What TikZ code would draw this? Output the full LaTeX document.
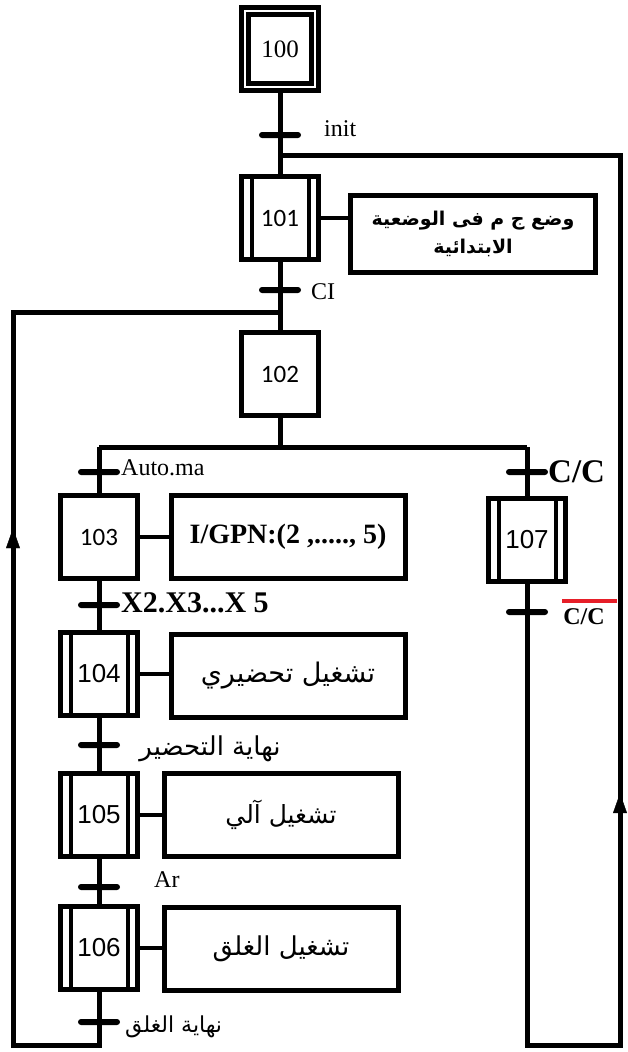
\documentclass[tikz,border=0pt]{standalone}
\usepackage{fontspec}
\setmainfont{Liberation Serif}
\newfontfamily\arabicfont[Script=Arabic]{DejaVu Sans}
\newfontfamily\calibrifont{Carlito}
\newfontfamily\arialfont{Liberation Sans}
\TeXXeTstate=1
\usetikzlibrary{arrows.meta, positioning, decorations.markings}
\definecolor{negred}{RGB}{230, 30, 40}
\newcommand{\serifnum}{\fontsize{25}{28}\selectfont}
\newcommand{\calnum}{\calibrifont\fontsize{25}{28}\selectfont}
\newcommand{\arnum}{\arialfont\fontsize{26}{28}\selectfont}
\tikzset{
    flow/.style={line width=5pt},
    link/.style={line width=3.5pt},
    uparrow/.style={postaction={decorate}, decoration={markings,
        mark=at position #1 with {\arrow{Triangle[length=20pt, width=14pt]}}}},
}

\begin{document}
\begin{tikzpicture}[x=1pt, y=-1pt,
        stepbox/.style={
            rectangle, draw, line width=5pt, fill=white,
            minimum width=77pt, minimum height=83pt, inner sep=0pt
        },
        dblstep/.style={
            stepbox, path picture={
                \draw[line width=4pt]
                    ([xshift=10pt]path picture bounding box.south west) --
                    ([xshift=10pt]path picture bounding box.north west);
                \draw[line width=4pt]
                    ([xshift=-10pt]path picture bounding box.south east) --
                    ([xshift=-10pt]path picture bounding box.north east);
            }
        },
        initstep/.style={
            rectangle, draw, line width=5pt, double=white, double distance=2pt,
            fill=white, minimum width=70pt, minimum height=76pt, inner sep=0pt
        },
        trans/.style={
            rectangle, fill=black, minimum width=42pt, minimum height=6pt,
            inner sep=0pt, rounded corners=3pt
        },
        action/.style={
            rectangle, draw, line width=5pt, fill=white, minimum width=234pt,
            minimum height=83pt, inner sep=0pt, align=center
        },
        lbl/.style={font=\fontsize{24}{28}\selectfont, inner sep=0pt},
        boldlbl/.style={font=\bfseries\fontsize{#1}{32}\selectfont, inner sep=0pt},
        arlbl/.style={font=\arabicfont\fontsize{#1}{30}\selectfont, inner sep=0pt},
    ]
    \useasboundingbox (0,0) rectangle (627,1052);

    % ---- Steps ----
    \node[initstep, font=\serifnum] (s100) at (280, 49) {100};
    \node[dblstep, font=\calnum] (s101) at (280, 218) {101};
    \node[stepbox, font=\calnum] (s102) at (280, 374) {102};
    \node[stepbox, font=\calnum] (s103) at (99, 537) {103};
    \node[dblstep, font=\arnum] (s104) at (99, 674) {104};
    \node[dblstep, font=\arnum] (s105) at (99, 815) {105};
    \node[dblstep, font=\arnum] (s106) at (99, 948) {106};
    \node[dblstep, font=\arnum] (s107) at (527, 540) {107};

    % ---- Transitions ----
    \node[trans] (t1) at (280, 135) {};
    \node[trans] (t2) at (280, 290) {};
    \node[trans] (t3) at (99, 472) {};
    \node[trans] (t4) at (527, 472) {};
    \node[trans] (t5) at (99, 605) {};
    \node[trans] (t6) at (99, 745) {};
    \node[trans] (t7) at (99, 887) {};
    \node[trans] (t8) at (99, 1022) {};
    \node[trans] (t9) at (527, 612) {};

    % ---- Actions ----
    \node[action, minimum width=245pt, minimum height=77pt,
          font=\arabicfont\bfseries\fontsize{19}{28}\selectfont] (a101) at (473, 234)
        {\beginR وضع ج م فى الوضعية\endR\\\beginR الابتدائية\endR};
    \node[action, font=\bfseries\fontsize{28}{30}\selectfont] (a103) at (288, 537)
        {I/GPN:(2 ,....., 5)};
    \node[action, font=\arabicfont\fontsize{27}{30}\selectfont] (a104) at (288, 676)
        {\beginR تشغيل تحضيري\endR};
    \node[action, font=\arabicfont\fontsize{25}{30}\selectfont] (a105) at (281, 815)
        {\beginR تشغيل آلي\endR};
    \node[action, font=\arabicfont\fontsize{26}{30}\selectfont] (a106) at (281, 949)
        {\beginR تشغيل الغلق\endR};

    % ---- Receptivities ----
    \node[lbl, anchor=west] (linit) at (324, 129) {init};
    \node[lbl, anchor=west] (lci) at (311, 292) {CI};
    \node[lbl, anchor=west] (lauto) at (121, 468) {Auto.ma};
    \node[boldlbl=33, anchor=west] (lcc) at (548, 472) {C/C};
    \node[boldlbl=30, anchor=west] (lx) at (121, 603) {X2.X3...X 5};
    \node[arlbl=26] (lprep) at (210, 749) {\beginR نهاية التحضير\endR};
    \node[lbl, anchor=west] (lar) at (154, 880) {Ar};
    \node[arlbl=22, anchor=west] (lclose) at (125, 1027) {\beginR نهاية الغلق\endR};
    \node[boldlbl=24] (lcc2) at (584, 617) {C/C};
    \draw[negred, line width=4pt] ([xshift=-1pt, yshift=8pt]lcc2.north west)
        -- ([xshift=12pt, yshift=8pt]lcc2.north east);

    % ---- Junction points ----
    \coordinate (jtop) at (280, 155);
    \coordinate (rtop) at (620, 155);
    \coordinate (rbot) at (620, 1045);
    \coordinate (cbot107) at (527, 1045);
    \coordinate (jleft) at (280, 312);
    \coordinate (ltop) at (13, 312);
    \coordinate (lbot) at (13, 1045);
    \coordinate (cbot) at (99, 1045);
    \coordinate (br) at (280, 447);
    \coordinate (brl) at (99, 447);
    \coordinate (brr) at (527, 447);

    % ---- Main sequence ----
    \draw[flow] (s100.south) -- (s101.north);
    \draw[flow] (s101.south) -- (s102.north);
    \draw[flow] (s102.south) -- (br);
    \draw[flow] (brl) -- (brr);
    \draw[flow] (brl) -- (s103.north);
    \draw[flow] (brr) -- (s107.north);
    \draw[flow] (s103.south) -- (s104.north);
    \draw[flow] (s104.south) -- (s105.north);
    \draw[flow] (s105.south) -- (s106.north);

    % ---- Loops back ----
    \draw[flow] (s106.south) -- (cbot) -- (lbot) -- (ltop) -- (jleft);
    \path[uparrow=0.705] (lbot) -- (ltop);
    \draw[flow] (s107.south) -- (cbot107) -- (rbot) -- (rtop) -- (jtop);
    \path[uparrow=0.283] (rbot) -- (rtop);

    % ---- Step to action links ----
    \draw[link] (s101.east) -- (s101.east -| a101.west);
    \draw[link] (s103.east) -- (s103.east -| a103.west);
    \draw[link] (s104.east) -- (s104.east -| a104.west);
    \draw[link] (s105.east) -- (s105.east -| a105.west);
    \draw[link] (s106.east) -- (s106.east -| a106.west);

\end{tikzpicture}
\end{document}
